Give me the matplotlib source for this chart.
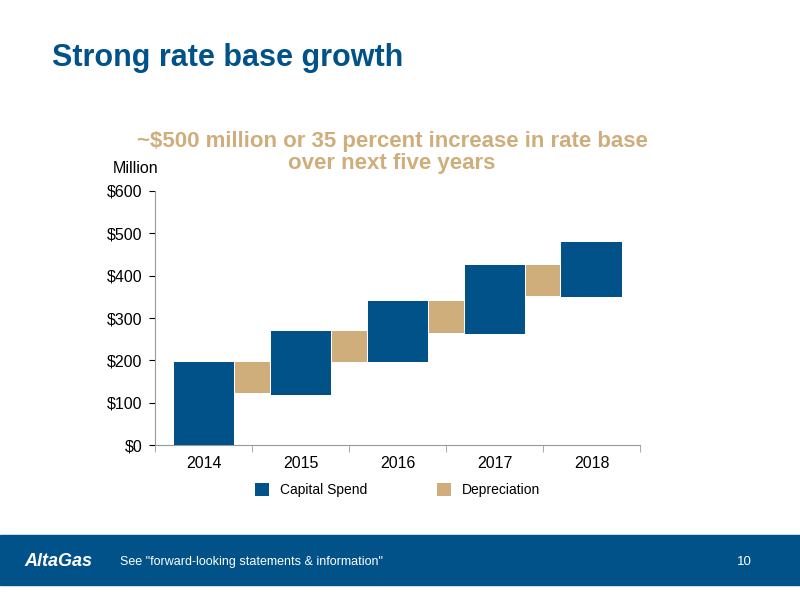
import matplotlib.pyplot as plt
from matplotlib.patches import Rectangle

plt.rcParams['font.family'] = ['Liberation Sans', 'DejaVu Sans']

years = ['2014', '2015', '2016', '2017', '2018']
capital_bottom = [0, 118, 196, 262, 350]
capital_top = [196, 269, 340, 425, 480]
dep_top = [196, 269, 340, 425]
dep_bottom = [123, 196, 265, 352]

blue = '#005288'
tan = '#CFAE7C'

fig = plt.figure(figsize=(8, 6), dpi=100)
ax = fig.add_axes([0.194, 0.258, 0.606, 0.424])

x = range(len(years))
ax.bar(x, [t - b for t, b in zip(capital_top, capital_bottom)], bottom=capital_bottom,
       width=0.62, color=blue, label='Capital Spend', zorder=3)
ax.bar([i + 0.5 for i in range(len(dep_top))], [t - b for t, b in zip(dep_top, dep_bottom)],
       bottom=dep_bottom, width=0.36, color=tan, label='Depreciation', zorder=2)

ax.set_xlim(-0.5, 4.5)
ax.set_ylim(0, 600)
ax.set_xticks(list(x))
ax.set_xticklabels(years, fontsize=11.5)
ax.set_yticks(range(0, 601, 100))
ax.set_yticklabels(['$' + str(v) for v in range(0, 601, 100)], fontsize=11.5)
for s in ['top', 'right']:
    ax.spines[s].set_visible(False)
ax.spines['left'].set_color('#999999')
ax.spines['bottom'].set_color('#999999')
ax.tick_params(axis='y', length=4, pad=5, colors='black')
ax.tick_params(axis='x', length=0, pad=8)
ax.set_xticks([-0.5, 0.5, 1.5, 2.5, 3.5, 4.5], minor=True)
ax.tick_params(axis='x', which='minor', length=5, color='#999999')

ax.legend(loc='upper center', bbox_to_anchor=(0.5, -0.1), ncol=2, frameon=False,
          fontsize=10, handlelength=1.0, handleheight=1.0, columnspacing=5)

fig.text(0.17, 0.712, 'Million', fontsize=11.5, ha='center')
fig.text(0.065, 0.89, 'Strong rate base growth', fontsize=22, fontweight='bold', color=blue)
fig.text(0.49, 0.755, '~$500 million or 35 percent increase in rate base',
         fontsize=16, fontweight='bold', color=tan, ha='center')
fig.text(0.49, 0.718, 'over next five years',
         fontsize=16, fontweight='bold', color=tan, ha='center')

fig.patches.append(Rectangle((0, 0.025), 1, 0.083, transform=fig.transFigure, color=blue))
fig.text(0.03, 0.064, 'AltaGas', fontsize=13, fontweight='bold', fontstyle='italic', color='white', va='center')
fig.text(0.15, 0.064, 'See "forward-looking statements & information"', fontsize=9, color='white', va='center')
fig.text(0.94, 0.064, '10', fontsize=9.5, color='white', va='center', ha='right')

fig.savefig('out.png')
